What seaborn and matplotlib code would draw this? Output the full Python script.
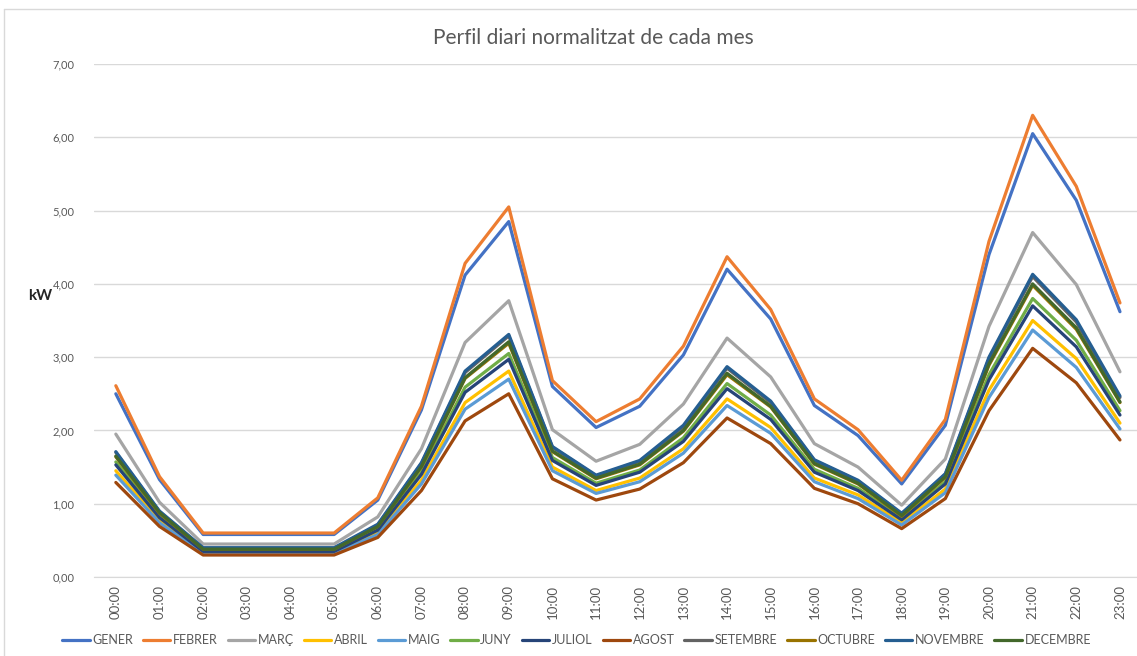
import pandas as pd
import seaborn as sns
import matplotlib.pyplot as plt
from matplotlib.lines import Line2D
from matplotlib.ticker import FuncFormatter

hours = [f"{h:02d}:00" for h in range(24)]
months = ['GENER', 'FEBRER', 'MARÇ', 'ABRIL', 'MAIG', 'JUNY', 'JULIOL',
          'AGOST', 'SETEMBRE', 'OCTUBRE', 'NOVEMBRE', 'DECEMBRE']
colors = ['#4472C4', '#ED7D31', '#A5A5A5', '#FFC000', '#5B9BD5', '#70AD47',
          '#264478', '#9E480E', '#636363', '#997300', '#255E91', '#43682B']

gener = [2.50, 1.33, 0.58, 0.58, 0.58, 0.58, 1.05, 2.28, 4.12, 4.85, 2.60, 2.04,
         2.33, 3.03, 4.20, 3.52, 2.34, 1.93, 1.27, 2.07, 4.40, 6.05, 5.14, 3.62]
febrer = [2.61, 1.37, 0.60, 0.60, 0.60, 0.60, 1.08, 2.33, 4.28, 5.05, 2.68, 2.12,
          2.43, 3.15, 4.37, 3.65, 2.43, 2.01, 1.32, 2.15, 4.58, 6.30, 5.33, 3.74]
marc = [1.95, 1.02, 0.45, 0.45, 0.45, 0.45, 0.82, 1.75, 3.20, 3.77, 2.01, 1.58,
        1.81, 2.36, 3.26, 2.73, 1.82, 1.50, 0.98, 1.61, 3.42, 4.70, 3.99, 2.80]
abril = [1.45, 0.77, 0.34, 0.34, 0.34, 0.34, 0.61, 1.32, 2.38, 2.81, 1.50, 1.18,
         1.35, 1.75, 2.43, 2.04, 1.35, 1.12, 0.74, 1.20, 2.55, 3.50, 2.98, 2.10]
maig = [1.39, 0.74, 0.32, 0.32, 0.32, 0.32, 0.58, 1.27, 2.29, 2.70, 1.45, 1.14,
        1.30, 1.69, 2.34, 1.96, 1.30, 1.07, 0.71, 1.15, 2.45, 3.37, 2.86, 2.02]
juny = [1.57, 0.84, 0.36, 0.36, 0.36, 0.36, 0.66, 1.43, 2.59, 3.05, 1.63, 1.28,
        1.46, 1.90, 2.64, 2.21, 1.47, 1.21, 0.80, 1.30, 2.76, 3.80, 3.23, 2.27]
juliol = [1.53, 0.81, 0.35, 0.35, 0.35, 0.35, 0.64, 1.40, 2.52, 2.97, 1.59, 1.25,
          1.43, 1.85, 2.57, 2.15, 1.43, 1.18, 0.78, 1.27, 2.69, 3.70, 3.14, 2.21]
agost = [1.29, 0.69, 0.30, 0.30, 0.30, 0.30, 0.54, 1.18, 2.13, 2.50, 1.34, 1.05,
         1.20, 1.56, 2.17, 1.82, 1.21, 1.00, 0.66, 1.07, 2.27, 3.12, 2.65, 1.87]
setembre = [1.70, 0.89, 0.39, 0.39, 0.39, 0.39, 0.71, 1.55, 2.79, 3.29, 1.77, 1.38,
            1.58, 2.05, 2.85, 2.38, 1.59, 1.31, 0.86, 1.40, 2.98, 4.10, 3.48, 2.45]
octubre = [1.64, 0.87, 0.38, 0.38, 0.38, 0.38, 0.69, 1.50, 2.71, 3.19, 1.71, 1.34,
           1.53, 1.99, 2.76, 2.32, 1.54, 1.27, 0.83, 1.36, 2.89, 3.98, 3.38, 2.38]
novembre = [1.71, 0.90, 0.40, 0.40, 0.40, 0.40, 0.72, 1.56, 2.81, 3.31, 1.78, 1.39,
            1.59, 2.07, 2.87, 2.40, 1.60, 1.32, 0.87, 1.41, 3.00, 4.13, 3.51, 2.47]
decembre = [1.65, 0.88, 0.38, 0.38, 0.38, 0.38, 0.69, 1.51, 2.72, 3.21, 1.72, 1.35,
            1.54, 2.00, 2.78, 2.33, 1.55, 1.28, 0.84, 1.37, 2.91, 4.00, 3.40, 2.39]

series = [gener, febrer, marc, abril, maig, juny, juliol, agost,
          setembre, octubre, novembre, decembre]

rows = []
for m, vals in zip(months, series):
    for i, v in enumerate(vals):
        rows.append({'hora': i, 'mes': m, 'kW': v})
df = pd.DataFrame(rows)

sns.set_style('white')
plt.rcParams['font.family'] = ['Lato', 'DejaVu Sans']
txt = '#595959'

fig = plt.figure(figsize=(11.37, 6.56), dpi=100)
ax = fig.add_axes([94 / 1137, 1 - 577 / 656, 1 - 94 / 1137, (577 - 64) / 656])

sns.lineplot(data=df, x='hora', y='kW', hue='mes', hue_order=months,
             palette=colors, linewidth=2.3, sort=False, legend=False, ax=ax)

ax.set_xlim(-0.5, 23.39)
ax.set_ylim(0, 7)
ax.set_yticks(range(8))
ax.yaxis.set_major_formatter(FuncFormatter(lambda v, p: f"{v:.2f}".replace('.', ',')))
ax.set_xticks(range(24))
ax.set_xticklabels(hours, rotation=90)
ax.tick_params(axis='y', labelsize=8, colors=txt, length=0, pad=14)
ax.tick_params(axis='x', labelsize=9.5, colors=txt, length=0, pad=6)
ax.grid(axis='y', color='#D9D9D9', linewidth=1)
ax.set_axisbelow(True)
for s in ['top', 'right', 'left']:
    ax.spines[s].set_visible(False)
ax.spines['bottom'].set_color('#D9D9D9')
ax.set_xlabel('')
ax.set_ylabel('')

fig.text(40 / 1137, 1 - 296 / 656, 'kW', fontsize=11, fontweight='bold',
         color='#262626', ha='center', va='center')
fig.text(0.522, 1 - 38 / 656, 'Perfil diari normalitzat de cada mes',
         fontsize=15, color=txt, ha='center', va='center')

# chart border
fig.add_artist(Line2D([4 / 1137, 4 / 1137], [0, 1 - 9 / 656], color='#D9D9D9',
                      linewidth=1, transform=fig.transFigure))
fig.add_artist(Line2D([4 / 1137, 1], [1 - 9 / 656, 1 - 9 / 656], color='#D9D9D9',
                      linewidth=1, transform=fig.transFigure))

handles = [Line2D([], [], color=c, linewidth=2.3) for c in colors]
fig.legend(handles, months, loc='center', bbox_to_anchor=(0.507, 1 - 640 / 656),
           ncol=12, frameon=False, fontsize=9, labelcolor=txt,
           handlelength=2.2, handletextpad=0.2, columnspacing=0.8)

fig.savefig('out.png', dpi=100)
